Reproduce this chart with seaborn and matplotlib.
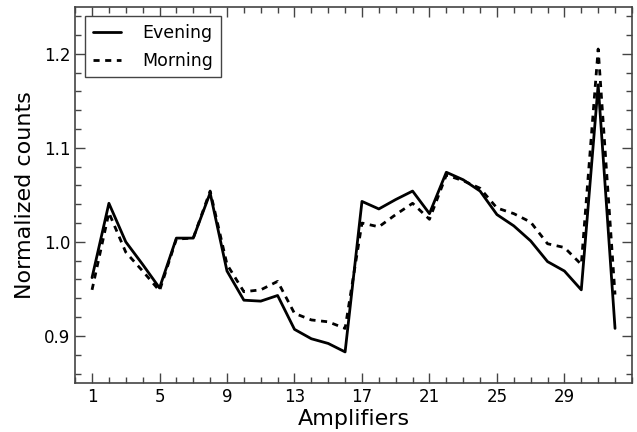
import numpy as np
import pandas as pd
import matplotlib
matplotlib.use("Agg")
import matplotlib.pyplot as plt
from matplotlib.ticker import MultipleLocator, FixedLocator
import seaborn as sns

amplifiers = list(range(1, 33))
evening = [0.962, 1.041, 1.000, 0.976, 0.951, 1.004, 1.004, 1.052, 0.969, 0.938,
           0.937, 0.943, 0.907, 0.897, 0.892, 0.883, 1.043, 1.035, 1.045, 1.054,
           1.030, 1.074, 1.066, 1.054, 1.029, 1.017, 1.001, 0.979, 0.969, 0.949,
           1.167, 0.908]
morning = [0.949, 1.031, 0.989, 0.969, 0.948, 1.003, 1.004, 1.054, 0.976, 0.947,
           0.949, 0.958, 0.924, 0.917, 0.915, 0.908, 1.020, 1.016, 1.029, 1.041,
           1.024, 1.071, 1.065, 1.057, 1.036, 1.030, 1.021, 0.998, 0.994, 0.976,
           1.205, 0.944]
xticks = [1, 5, 9, 13, 17, 21, 25, 29]
yticks = [0.9, 1.0, 1.1, 1.2]

df = pd.DataFrame({
    "Amplifiers": amplifiers * 2,
    "Normalized counts": evening + morning,
    "Session": ["Evening"] * len(amplifiers) + ["Morning"] * len(amplifiers),
})

sns.set_style("ticks")
plt.rcParams["font.family"] = ["DejaVu Sans"]
plt.rcParams.update({
    "xtick.direction": "in", "ytick.direction": "in",
    "xtick.top": True, "ytick.right": True,
    "text.color": "black", "axes.labelcolor": "black",
    "xtick.labelcolor": "black", "ytick.labelcolor": "black",
})

fig = plt.figure(figsize=(6.37, 4.32), dpi=100)
ax = fig.add_axes([0.118, 0.1135, 0.874, 0.871])

sns.lineplot(data=df, x="Amplifiers", y="Normalized counts", style="Session",
             dashes={"Evening": "", "Morning": (2.2, 2)}, color="black",
             linewidth=2, ax=ax)

ax.set_xlim(0, 33)
ax.set_ylim(0.85, 1.25)
ax.xaxis.set_major_locator(FixedLocator(xticks))
ax.xaxis.set_minor_locator(MultipleLocator(1))
ax.yaxis.set_major_locator(FixedLocator(yticks))
ax.yaxis.set_minor_locator(MultipleLocator(0.02))
ax.set_yticklabels([f"{v:.1f}" for v in yticks])
ax.tick_params(which="major", length=7, width=1, color="#444444", labelsize=12,
               labelcolor="black", top=True, right=True, direction="in")
ax.tick_params(which="minor", length=4, width=1, color="#444444",
               top=True, right=True, direction="in")
for s in ax.spines.values():
    s.set_color("#444444")
    s.set_linewidth(1.2)
ax.set_xlabel("Amplifiers", fontsize=16, labelpad=2, color="black")
ax.set_ylabel("Normalized counts", fontsize=16, labelpad=6, color="black")

leg = ax.legend(loc="upper left", fontsize=12.5, fancybox=False, framealpha=1,
                edgecolor="#444444", handlelength=1.65, handletextpad=1.2,
                borderpad=0.45, labelspacing=0.55, borderaxespad=0.55)
leg.set_title(None)
leg.get_frame().set_linewidth(1.0)
for t in leg.get_texts():
    t.set_color("black")

fig.savefig("out.png", dpi=100)
